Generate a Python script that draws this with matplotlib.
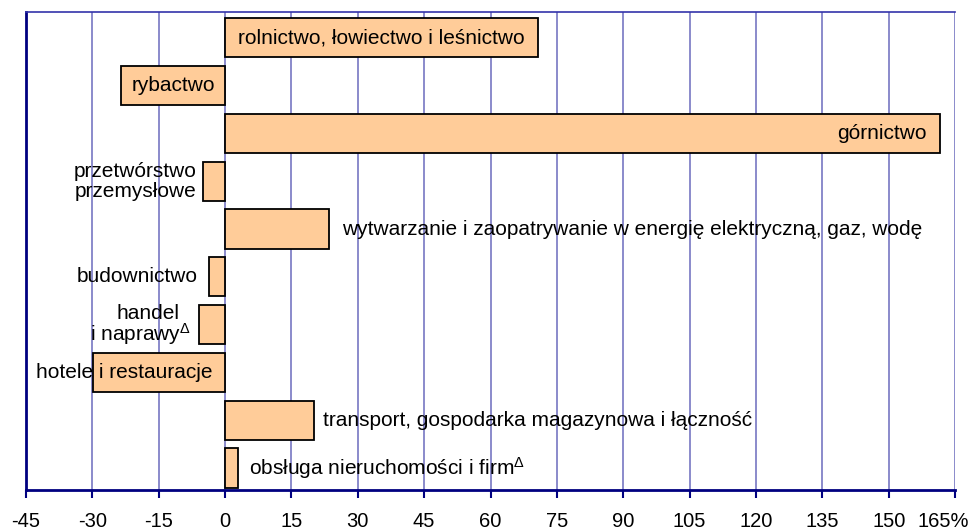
import matplotlib.pyplot as plt
from matplotlib.transforms import ScaledTranslation

plt.rcParams['font.family'] = ['Liberation Sans', 'DejaVu Sans']
plt.rcParams['mathtext.fontset'] = 'custom'
plt.rcParams['mathtext.rm'] = 'Liberation Sans'
plt.rcParams['mathtext.it'] = 'Liberation Sans'

sectors = ["rolnictwo, łowiectwo i leśnictwo", "rybactwo", "górnictwo",
           "przetwórstwo\nprzemysłowe",
           "wytwarzanie i zaopatrywanie w energię elektryczną, gaz, wodę",
           "budownictwo", "handel", "hotele i restauracje",
           "transport, gospodarka magazynowa i łączność",
           "obsługa nieruchomości i firm$^{\\Delta}$"]
values = [70.7, -23.5, 161.6, -5.0, 23.5, -3.6, -5.9, -29.8, 20.1, 2.9]
ticks = list(range(-45, 166, 15))
tick_labels = [str(t) for t in ticks[:-1]] + ["165%"]

fig = plt.figure(figsize=(9.76, 5.32), dpi=100)
ax = fig.add_axes([0.0266, 0.0789, 0.952, 0.8985])

grid_c = '#6b6bbd'
for t in ticks[1:]:
    ax.axvline(t, color=grid_c, lw=1.1, zorder=0)

ypos = list(range(len(values)))
ax.barh(ypos, values, height=0.82, color='#ffcc99', edgecolor='black', lw=1.3, zorder=2)

fs = 15
# label placement per bar
ax.text(values[0] / 2, 0, sectors[0], ha='center', va='center', fontsize=fs, zorder=3)
ax.text(values[1] / 2, 1, sectors[1], ha='center', va='center', fontsize=fs, zorder=3)
ax.text(values[2] - 3, 2, sectors[2], ha='right', va='center', fontsize=fs, zorder=3)
ax.text(-20.3, 3, sectors[3], ha='center', va='center', fontsize=fs, zorder=3, linespacing=1.05)
ax.text(values[4] + 3, 4, sectors[4], ha='left', va='center', fontsize=fs, zorder=3)
ax.text(-6.1, 5, sectors[5], ha='right', va='center', fontsize=fs, zorder=3)
ax.text(-10.4, 5.77, sectors[6], ha='right', va='center', fontsize=fs, zorder=3)
ax.text(-7.8, 6.2, "i naprawy$^{\\Delta}$", ha='right', va='center', fontsize=fs, zorder=3)
ax.text(-42.7, 7, sectors[7], ha='left', va='center', fontsize=fs, zorder=3)
ax.text(values[8] + 2, 8, sectors[8], ha='left', va='center', fontsize=fs, zorder=3)
ax.text(values[9] + 2.5, 9, sectors[9], ha='left', va='center', fontsize=fs, zorder=3)

ax.set_xlim(-45, 165)
ax.set_ylim(9.46, -0.54)
ax.set_yticks([])
ax.set_xticks(ticks)
ax.set_xticklabels(tick_labels, fontsize=14.5)
ax.tick_params(axis='x', direction='out', length=6, width=1.5, color='#000080', pad=10)
last = ax.get_xticklabels()[-1]
last.set_transform(last.get_transform() + ScaledTranslation(-0.12, 0, fig.dpi_scale_trans))

ax.spines['left'].set_color('#000080')
ax.spines['left'].set_linewidth(2)
ax.spines['bottom'].set_color('#000080')
ax.spines['bottom'].set_linewidth(2)
ax.spines['top'].set_color('#3333aa')
ax.spines['top'].set_linewidth(1.2)
ax.spines['right'].set_visible(False)

fig.savefig('out.png', dpi=100)
